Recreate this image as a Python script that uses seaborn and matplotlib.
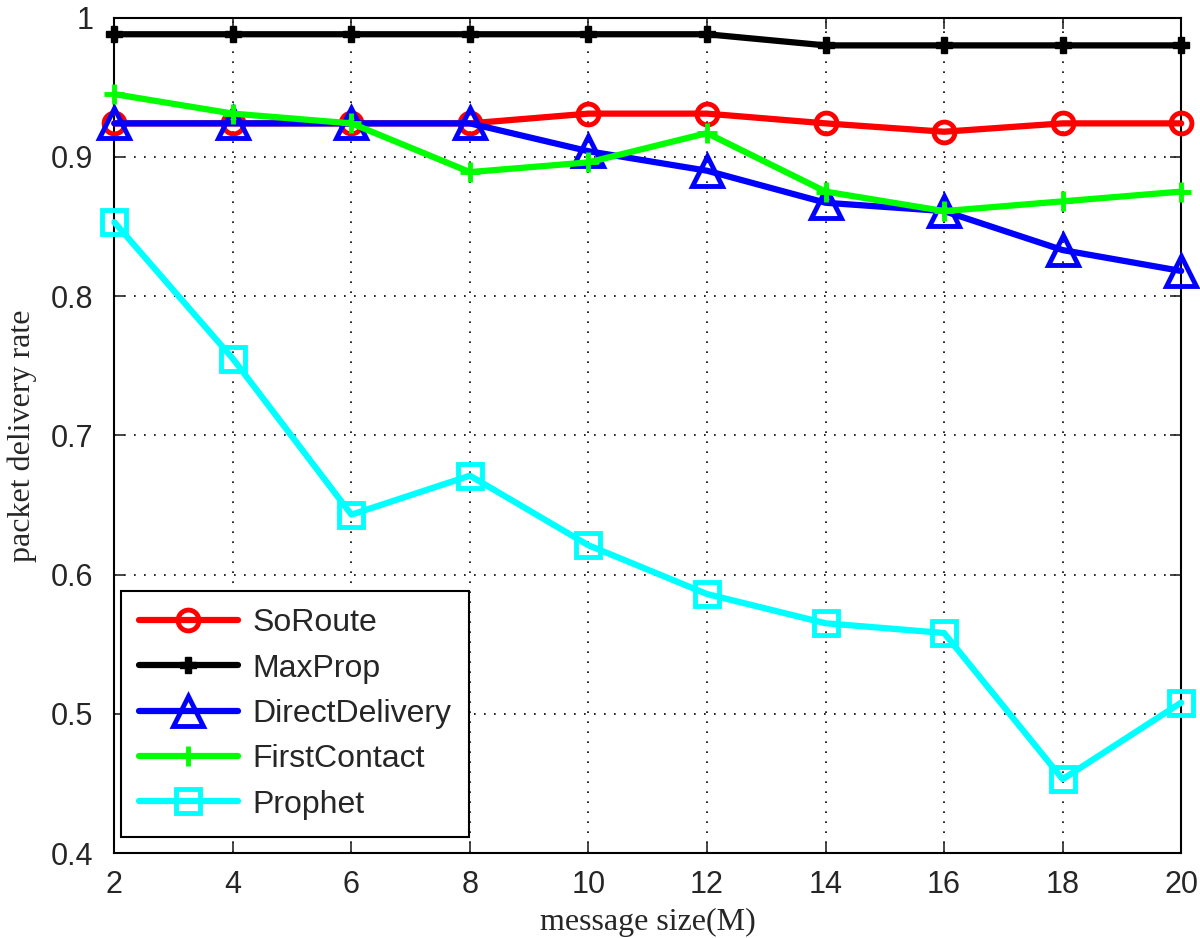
import numpy as np
import pandas as pd
import matplotlib
matplotlib.use('Agg')
import matplotlib.pyplot as plt
import seaborn as sns

msgSize = [2, 4, 6, 8, 10, 12, 14, 16, 18, 20]

soRoute = [0.924, 0.924, 0.924, 0.924, 0.931, 0.931, 0.924, 0.918, 0.924, 0.924]
maxProp = [0.988, 0.988, 0.988, 0.988, 0.988, 0.988, 0.980, 0.980, 0.980, 0.980]
directDelivery = [0.924, 0.924, 0.924, 0.924, 0.904, 0.890, 0.867, 0.861, 0.833, 0.818]
firstContact = [0.945, 0.931, 0.924, 0.889, 0.896, 0.917, 0.875, 0.861, 0.868, 0.875]
prophet = [0.853, 0.755, 0.643, 0.671, 0.621, 0.586, 0.565, 0.558, 0.453, 0.508]

names = ['SoRoute', 'MaxProp', 'DirectDelivery', 'FirstContact', 'Prophet']
colors = ['#ff0000', '#000000', '#0000ff', '#00ff00', '#00ffff']
markers = ['o', 'P', '^', '+', 's']
msizes = [15, 12, 22, 15, 17]

df = pd.DataFrame({'size': msgSize * 5,
                   'rate': soRoute + maxProp + directDelivery + firstContact + prophet,
                   'algo': sum([[n] * len(msgSize) for n in names], [])})

sns.set_style('white')
plt.rcParams['font.family'] = ['Liberation Sans', 'DejaVu Sans']

fig = plt.figure(figsize=(12, 9.38), dpi=100)
ax = fig.add_axes([0.0953, 0.0906, 0.889, 0.8907])

for name, c, m, ms in zip(names, colors, markers, msizes):
    sub = df[df['algo'] == name]
    filled = m in ('P',)
    sns.lineplot(data=sub, x='size', y='rate', ax=ax, color=c, linewidth=4.5,
                 marker=m, markersize=ms, markeredgewidth=3.5 if not filled else 1,
                 markerfacecolor=c if filled else 'none', markeredgecolor=c,
                 label=name, clip_on=False, zorder=3)

ax.set_xlim(2, 20)
ax.set_ylim(0.4, 1.0)
ax.set_xticks(msgSize)
ax.set_yticks([0.4, 0.5, 0.6, 0.7, 0.8, 0.9, 1.0])
ax.set_yticklabels(['0.4', '0.5', '0.6', '0.7', '0.8', '0.9', '1'])
ax.tick_params(direction='in', length=8, width=1.2, labelsize=22, top=True, right=True,
               bottom=True, left=True)
ax.tick_params(axis='y', pad=15)
ax.tick_params(axis='x', pad=12)
ax.grid(True, linestyle=(0, (1, 5)), color='black', linewidth=1.2)
for sp in ax.spines.values():
    sp.set_color('black')
    sp.set_linewidth(1.5)

ax.set_xlabel('message size(M)', fontsize=23, family='Liberation Serif', labelpad=6)
ax.set_ylabel('packet delivery rate', fontsize=23, family='Liberation Serif', labelpad=10)

leg = ax.legend(loc='lower left', bbox_to_anchor=(0.0063, 0.019), borderaxespad=0,
                fontsize=23, frameon=True, fancybox=False, edgecolor='black', framealpha=1,
                handlelength=3.1, handletextpad=0.45, labelspacing=0.48, borderpad=0.55)
leg.get_frame().set_linewidth(1.5)

fig.savefig('out.png', dpi=100)
